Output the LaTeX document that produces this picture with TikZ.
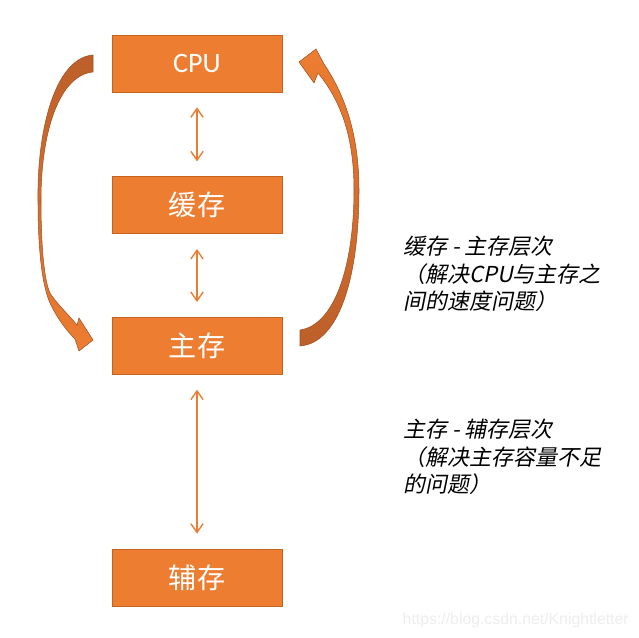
\documentclass[tikz,border=0pt]{standalone}
\usepackage{fontspec}
\setmainfont{Carlito}
\newfontfamily\cjk{Noto Sans CJK SC}
\newfontfamily\cjkslant{Noto Sans CJK SC}[FakeSlant=0.2]
\newfontfamily\markfont{Liberation Sans}
\usetikzlibrary{arrows.meta}
\usetikzlibrary{positioning}
\definecolor{boxorange}{HTML}{ED7D31}
\definecolor{boxedge}{HTML}{C4621F}
\definecolor{bowdark}{HTML}{BC5F2A}
\tikzset{
	level/.style={rectangle, draw=boxedge, fill=boxorange, text=white, minimum width=3.4cm, minimum height=1.14cm, inner sep=0pt, font=\cjk\fontsize{16}{19}\selectfont},
	link/.style={draw=boxorange, line width=0.8pt, {Straight Barb[length=5pt,width=7pt]}-{Straight Barb[length=5pt,width=7pt]}, shorten <=0.3cm, shorten >=0.3cm},
	note/.style={anchor=north west, inner sep=0pt, align=left, font=\cjkslant\fontsize{12.5}{15.5}\selectfont},
	bow/.style={draw=bowdark!85!black, line width=0.3pt}
}

\begin{document}
\begin{tikzpicture}[x=0.02cm, y=-0.02cm]
\useasboundingbox (0,0) rectangle (639,638);

\node[level, font=\fontsize{16}{19}\selectfont] (cpu) at (197,63.5) {CPU};
\node[level, below=1.68cm of cpu] (cache) {缓存};
\node[level, below=1.66cm of cache] (main) {主存};
\node[level, below=3.48cm of main] (aux) {辅存};

\draw [link] (cpu) -- (cache);
\draw [link] (cache) -- (main);
\draw [link] (main) -- (aux);

% curved block arrows
\path[bow, top color=bowdark, bottom color=boxorange]
	(93,55) .. controls (55,58) and (37,130) .. (38,200)
	.. controls (38,250) and (42,285) .. (50,303)
	.. controls (57,318) and (66,330) .. (75,339)
	-- (79,351) -- (93,340) -- (79,318) -- (77,325)
	.. controls (68,314) and (56,303) .. (50,293)
	.. controls (44,280) and (41,245) .. (41,200)
	.. controls (41,130) and (60,75) .. (93,72) -- cycle;
\path[bow, top color=boxorange, bottom color=bowdark]
	(300,330) .. controls (335,325) and (354,265) .. (354,190)
	.. controls (354,135) and (340,100) .. (318,73)
	-- (314,83) -- (299,62) -- (316,49) -- (324,64)
	.. controls (345,95) and (359,135) .. (359,190)
	.. controls (359,275) and (340,343) .. (300,346) -- cycle;

\node[note] (cachenote) at (403,236)
	{缓存 - 主存层次\\（解决CPU与主存之\\间的速度问题）};
\node[note] (mainnote) at (403,419)
	{主存 - 辅存层次\\（解决主存容量不足\\的问题）};

\node[anchor=south east, inner sep=0pt, text=gray!14, font=\markfont\fontsize{9}{10}\selectfont] (mark) at (629,628)
	{https://blog.csdn.net/Knightletter};
\end{tikzpicture}
\end{document}
